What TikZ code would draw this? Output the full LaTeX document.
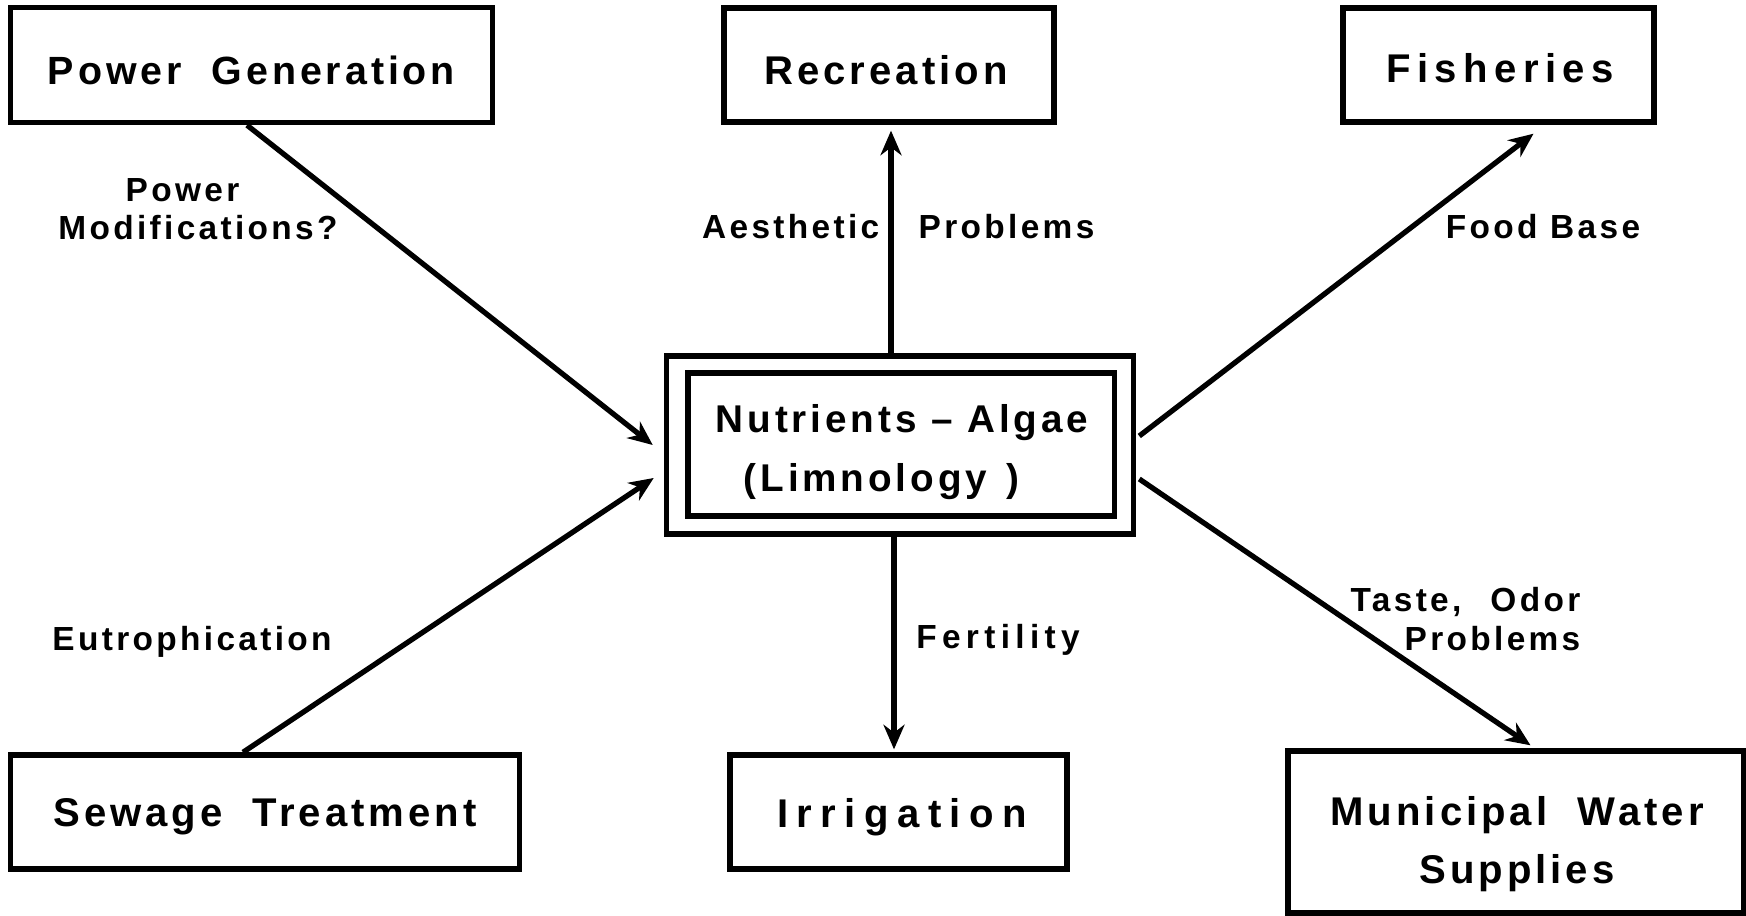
\documentclass[tikz,border=0pt]{standalone}
\usepackage{fontspec}
\setmainfont{Liberation Sans}[LetterSpace=10]
\usetikzlibrary{arrows.meta,calc}
\begin{document}
\begin{tikzpicture}[x=0.01cm,y=-0.01cm,
  box/.style={draw,line width=1.5pt,inner sep=0pt},
  btext/.style={inner sep=0pt,font=\fontsize{11.4}{16.5}\selectfont\bfseries,align=center},
  lab/.style={inner sep=0pt,font=\fontsize{9.5}{10.8}\selectfont\bfseries,align=center},
  conn/.style={line width=1.5pt},
  arr/.style={conn,-{Stealth[length=7pt,width=6pt]}}]
\useasboundingbox (0,0) rectangle (1746,916);
\node[box,minimum width=4.82cm,minimum height=1.15cm] (pg) at (251.5,65) {};
\node[btext,font=\fontsize{11.2}{16.5}\selectfont\bfseries] (pgt) at (251.5,70) {Power\ \ Generation};
\node[box,minimum width=3.30cm,minimum height=1.14cm] (rec) at (889,65) {};
\node[btext] (rect) at (886,70) {Recreation};
\node[box,minimum width=3.11cm,minimum height=1.14cm] (fish) at (1498.5,65) {};
\node[btext,font=\fontsize{11.4}{16.5}\selectfont\bfseries\addfontfeatures{LetterSpace=16}] (fisht) at (1500,68) {Fisheries};
\node[box,minimum width=5.08cm,minimum height=1.14cm] (sew) at (265,812) {};
\node[btext] (sewt) at (265,817) {Sewage\ \ Treatment};
\node[box,minimum width=3.37cm,minimum height=1.14cm] (irr) at (898.5,812) {};
\node[btext,font=\fontsize{11.4}{16.5}\selectfont\bfseries\addfontfeatures{LetterSpace=21}] (irrt) at (902,817) {Irrigation};
\node[box,minimum width=4.55cm,minimum height=1.62cm] (mun) at (1515.5,832) {};
\node[btext] (munt) at (1517,844) {Municipal\ \ Water\\Supplies};
\node[box,minimum width=4.67cm,minimum height=1.78cm] (outer) at (900,445) {};
\node[box,minimum width=4.26cm,minimum height=1.43cm] (inner) at (901,444.5) {};
\node[btext,align=left,font=\fontsize{11}{17}\selectfont\bfseries] (innert) at (902,452) {Nutrients -- Algae\\\hspace*{0.28cm}(Limnology\,\,\,)};
% connectors
\draw[arr] ($(pg.south)+(-4.5,0)$) -- ($(outer.west)+(-11,0)$);
\draw[arr] ($(sew.north)+(-22,0)$) -- ($(outer.west)+(-10,33)$);
\draw[arr] ($(outer.north)+(-9,0)$) -- ($(rec.south)+(2,6)$);
\draw[arr] ($(outer.east)+(3,-9)$) -- ($(fish.south)+(35,9)$);
\draw[arr] ($(outer.south)+(-6,0)$) -- ($(irr.north)+(-4.5,-3)$);
\draw[arr] ($(outer.east)+(3,34)$) -- ($(mun.north)+(15,-3)$);
% labels
\node[lab] (l1) at (198,209) {\hspace*{-0.31cm}Power\\Modifications?};
\node[lab,anchor=east] (l2) at (880,227) {Aesthetic};
\node[lab,anchor=west] (l3) at (918,227) {Problems};
\node[lab] (l4) at (1543,227) {Food Base};
\node[lab] (l5) at (192,642) {Eutrophication};
\node[lab,font=\fontsize{9.5}{10.8}\selectfont\bfseries\addfontfeatures{LetterSpace=16}] (l6) at (998,640) {Fertility};
\node[lab,anchor=east,align=right,font=\fontsize{9.5}{11.2}\selectfont\bfseries] (l7) at (1581,619) {Taste,\hspace{0.29cm}Odor\\Problems};
\end{tikzpicture}
\end{document}
